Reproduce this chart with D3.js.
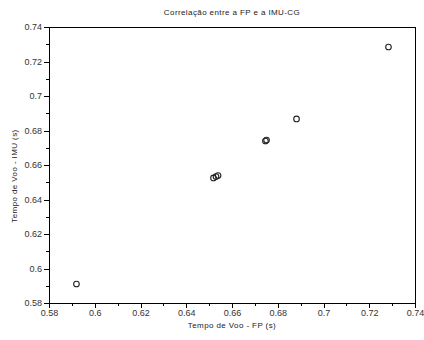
<!DOCTYPE html>
<html>
<head>
<meta charset="utf-8">
<script src="https://cdn.jsdelivr.net/npm/d3@7"></script>
<style>
  body { margin: 0; background: #fff; }
  text { font-family: "Liberation Sans", Arial, sans-serif; }
</style>
</head>
<body>
<div id="chart"></div>
<script>
// Data
const fpTimes  = [0.592, 0.7284, 0.6882, 0.6746, 0.6751, 0.6519, 0.6530, 0.6539];
const imuTimes = [0.591, 0.7284, 0.6867, 0.6739, 0.6745, 0.6525, 0.6533, 0.6539];
const majorTicks = [0.58, 0.6, 0.62, 0.64, 0.66, 0.68, 0.7, 0.72, 0.74];
const minorTicks = [0.59, 0.61, 0.63, 0.65, 0.67, 0.69, 0.71, 0.73];

const svgWidth = 424, svgHeight = 340;
const margin = { top: 27, right: 9, bottom: 37, left: 49 };
const width = svgWidth - margin.left - margin.right;
const height = svgHeight - margin.top - margin.bottom;

const svg = d3.select("#chart")
  .append("svg")
  .attr("width", svgWidth)
  .attr("height", svgHeight);

const g = svg.append("g")
  .attr("transform", "translate(" + margin.left + "," + margin.top + ")");

const xScale = d3.scaleLinear().domain([0.58, 0.74]).range([0, width]);
const yScale = d3.scaleLinear().domain([0.58, 0.74]).range([height, 0]);

// frame
g.append("rect")
  .attr("x", 0).attr("y", 0)
  .attr("width", width).attr("height", height)
  .attr("fill", "none")
  .attr("stroke", "#000")
  .attr("stroke-width", 1)
  .style("shape-rendering", "crispEdges");

// x axis: major and minor ticks
const xAxis = g.append("g")
  .attr("transform", "translate(0," + height + ")")
  .call(d3.axisBottom(xScale).tickValues(majorTicks).tickSize(5).tickSizeOuter(0)
    .tickFormat(d3.format("~g")));
g.append("g")
  .attr("transform", "translate(0," + height + ")")
  .call(d3.axisBottom(xScale).tickValues(minorTicks).tickSize(3).tickFormat(""))
  .select(".domain").remove();

// y axis
const yAxis = g.append("g")
  .call(d3.axisLeft(yScale).tickValues(majorTicks).tickSize(5).tickSizeOuter(0)
    .tickFormat(d3.format("~g")));
g.append("g")
  .call(d3.axisLeft(yScale).tickValues(minorTicks).tickSize(3).tickFormat(""))
  .select(".domain").remove();

g.selectAll(".tick line").attr("stroke", "#000").style("shape-rendering", "crispEdges");
g.selectAll(".domain").attr("stroke", "#000").style("shape-rendering", "crispEdges");
g.selectAll(".tick text")
  .style("font-family", "'Liberation Sans', Arial, sans-serif")
  .style("font-size", "9px")
  .attr("fill", "#333");
xAxis.selectAll(".tick text").attr("y", 7);
yAxis.selectAll(".tick text").attr("x", -7);

// points
const data = fpTimes.map((x, i) => ({ x: x, y: imuTimes[i] }));
g.selectAll(".dot")
  .data(data)
  .enter().append("circle")
  .attr("class", "dot")
  .attr("cx", d => xScale(d.x))
  .attr("cy", d => yScale(d.y))
  .attr("r", 2.8)
  .attr("fill", "none")
  .attr("stroke", "#222")
  .attr("stroke-width", 1.1);

// title and labels
svg.append("text")
  .attr("x", margin.left + width / 2)
  .attr("y", 15)
  .attr("text-anchor", "middle")
  .style("font-size", "8px")
  .style("letter-spacing", "0.4px")
  .attr("fill", "#222")
  .text("Correlação entre a FP e a IMU-CG");

svg.append("text")
  .attr("x", margin.left + width / 2)
  .attr("y", 328)
  .attr("text-anchor", "middle")
  .style("font-size", "8px")
  .style("letter-spacing", "0.4px")
  .attr("fill", "#222")
  .text("Tempo de Voo - FP (s)");

svg.append("text")
  .attr("transform", "translate(17," + 176 + ") rotate(-90)")
  .attr("text-anchor", "middle")
  .style("font-size", "8px")
  .style("letter-spacing", "0.4px")
  .attr("fill", "#222")
  .text("Tempo de Voo - IMU (s)");
</script>
</body>
</html>
